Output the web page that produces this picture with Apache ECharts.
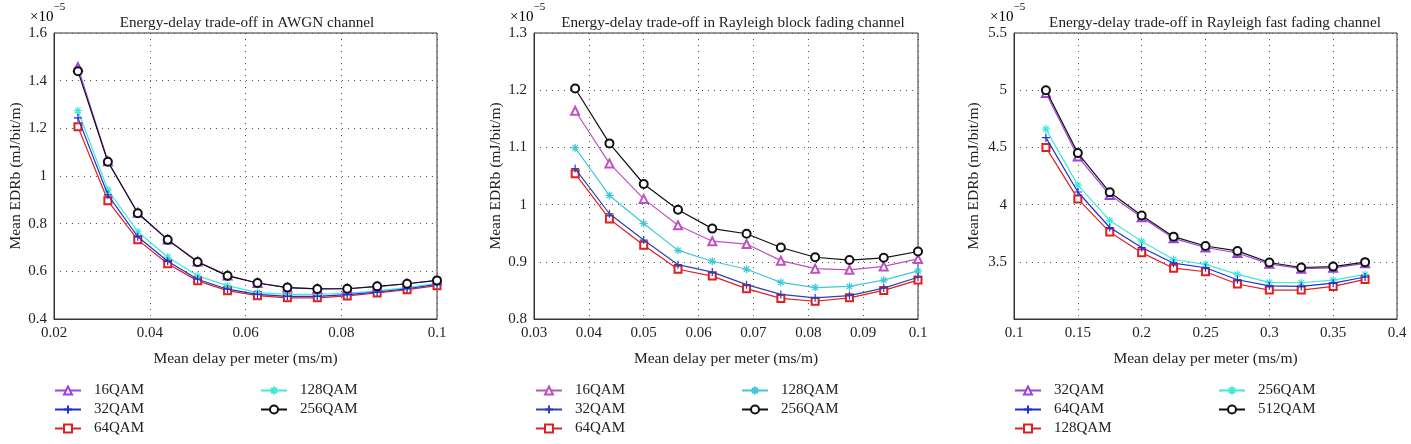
<!DOCTYPE html>
<html><head><meta charset="utf-8">
<script src="https://cdn.jsdelivr.net/npm/echarts@6/dist/echarts.min.js"></script>
<style>html,body{margin:0;padding:0;background:#fff}#c{width:1411px;height:444px}</style>
</head><body><div id="c"></div>
<script>
// ---------- data (values in units of 1e-5 mJ/bit/m) ----------
const titles = ['Energy-delay trade-off in AWGN channel','Energy-delay trade-off in Rayleigh block fading channel','Energy-delay trade-off in Rayleigh fast fading channel'];
const xLabel = 'Mean delay per meter (ms/m)';
const yLabel = 'Mean EDRb (mJ/bit/m)';

// AWGN
const awgnX = [0.025,0.03125,0.0375,0.04375,0.05,0.05625,0.0625,0.06875,0.075,0.08125,0.0875,0.09375,0.1];
const awgnNames = ['16QAM','32QAM','64QAM','128QAM','256QAM'];
const awgn16  = [1.457,1.062,0.846,0.734,0.641,0.583,0.551,0.532,0.527,0.527,0.536,0.548,0.562];
const awgn32  = [1.244,0.921,0.745,0.642,0.567,0.525,0.503,0.495,0.495,0.502,0.513,0.527,0.545];
const awgn64  = [1.207,0.896,0.732,0.632,0.560,0.519,0.498,0.489,0.489,0.497,0.509,0.523,0.540];
const awgn128 = [1.274,0.942,0.766,0.660,0.581,0.540,0.511,0.503,0.503,0.508,0.518,0.532,0.550];
const awgn256 = [1.440,1.060,0.844,0.732,0.639,0.581,0.551,0.532,0.526,0.527,0.537,0.548,0.562];

// Rayleigh block fading
const blockX = [0.0375,0.04375,0.05,0.05625,0.0625,0.06875,0.075,0.08125,0.0875,0.09375,0.1];
const blockNames = ['16QAM','32QAM','64QAM','128QAM','256QAM'];
const block16  = [1.164,1.072,1.010,0.964,0.936,0.931,0.902,0.888,0.886,0.892,0.905];
const block32  = [1.063,0.984,0.938,0.895,0.882,0.860,0.843,0.837,0.841,0.854,0.873];
const block64  = [1.054,0.975,0.929,0.887,0.875,0.853,0.836,0.831,0.837,0.850,0.868];
const block128 = [1.099,1.016,0.967,0.920,0.901,0.887,0.864,0.855,0.857,0.868,0.884];
const block256 = [1.203,1.107,1.036,0.991,0.958,0.949,0.925,0.908,0.903,0.907,0.918];

// Rayleigh fast fading
const fastX = [0.125,0.15,0.175,0.2,0.225,0.25,0.275,0.3,0.325,0.35,0.375];
const fastNames = ['32QAM','64QAM','128QAM','256QAM','512QAM'];
const fast32  = [4.975,4.42,4.085,3.89,3.705,3.625,3.577,3.482,3.44,3.447,3.487];
const fast64  = [4.585,4.11,3.80,3.625,3.488,3.448,3.343,3.29,3.285,3.313,3.367];
const fast128 = [4.50,4.05,3.76,3.58,3.444,3.413,3.306,3.253,3.253,3.285,3.346];
const fast256 = [4.66,4.17,3.862,3.68,3.52,3.478,3.39,3.32,3.317,3.34,3.39];
const fast512 = [5.0,4.45,4.107,3.905,3.72,3.638,3.595,3.494,3.45,3.458,3.497];

// axis ticks
const axes = [
  {xmin:0.02,xmax:0.1,xint:0.02,ymin:0.4,ymax:1.6,yint:0.2},
  {xmin:0.03,xmax:0.1,xint:0.01,ymin:0.8,ymax:1.3,yint:0.1},
  {xmin:0.1,xmax:0.4,xint:0.05,ymin:3,ymax:5.5,yint:0.5}
];

// ---------- styling ----------
const FONT = 'Liberation Serif';
const plusPath = 'path://M5,0 L5,10 M0,5 L10,5';
const starPath = 'path://M5,0 L5,10 M0,5 L10,5 M1.5,1.5 L8.5,8.5 M8.5,1.5 L1.5,8.5';
const grids = [
  {left:54, right:1411-437, top:33, bottom:444-319},
  {left:534, right:1411-918, top:33, bottom:444-319},
  {left:1014, right:1411-1397, top:33, bottom:444-319}
];
const styleSets = [
  [{c:'#a040f0',s:'emptyTriangle',z:8},{c:'#2030d0',s:plusPath,z:8},{c:'#e02020',s:'emptyRect',z:7},{c:'#40e8d8',s:starPath,z:7},{c:'#111',s:'emptyCircle',z:9}],
  [{c:'#c050c0',s:'emptyTriangle',z:9},{c:'#3040b0',s:plusPath,z:8},{c:'#e02020',s:'emptyRect',z:7},{c:'#40c8d8',s:starPath,z:7},{c:'#111',s:'emptyCircle',z:9}],
  [{c:'#a040e0',s:'emptyTriangle',z:8},{c:'#2030d0',s:plusPath,z:8},{c:'#e02020',s:'emptyRect',z:7},{c:'#40e8d8',s:starPath,z:7},{c:'#111',s:'emptyCircle',z:9}]
];
const chartData = [
  {x:awgnX, names:awgnNames, ys:[awgn16,awgn32,awgn64,awgn128,awgn256]},
  {x:blockX, names:blockNames, ys:[block16,block32,block64,block128,block256]},
  {x:fastX, names:fastNames, ys:[fast32,fast64,fast128,fast256,fast512]}
];

const xAxis = [], yAxis = [], series = [], legend = [], title = [], graphic = [];
const legendPos = [
  [{l:54,t:382},{l:260,t:382}],
  [{l:535,t:382},{l:741,t:382}],
  [{l:1014,t:382},{l:1218,t:382}]
];
const titleCx = [242, 728, 1210];
const expX = [30, 510, 990];
const yNameGap = [27, 30, 32];

chartData.forEach((cd, gi) => {
  const a = axes[gi];
  xAxis.push({
    gridIndex: gi, type:'value', min:a.xmin, max:a.xmax, interval:a.xint,
    name: xLabel, nameLocation:'middle', nameGap: 32,
    nameTextStyle:{fontFamily:FONT, fontSize:15.5, color:'#222'},
    axisLine:{lineStyle:{color:'#333', width:1}},
    axisTick:{show:false},
    axisLabel:{fontFamily:FONT, fontSize:15, color:'#222', margin:7},
    splitLine:{show:true, lineStyle:{color:'#555', width:1, type:[1,5]}}
  });
  yAxis.push({
    gridIndex: gi, type:'value', min:a.ymin, max:a.ymax, interval:a.yint,
    name: yLabel, nameLocation:'middle', nameGap: yNameGap[gi],
    nameTextStyle:{fontFamily:FONT, fontSize:15.5, color:'#222'},
    axisLine:{lineStyle:{color:'#333', width:1}},
    axisTick:{show:false},
    axisLabel:{fontFamily:FONT, fontSize:15, color:'#222', margin:7,
      formatter: v => (gi===2 && v===3) ? '' : String(+v.toFixed(4))},
    splitLine:{show:true, lineStyle:{color:'#555', width:1, type:[1,5]}}
  });
  cd.ys.forEach((ys, si) => {
    const st = styleSets[gi][si];
    const isPath = st.s.startsWith('path');
    series.push({
      type:'line', name: cd.names[si] + '#' + gi, xAxisIndex:gi, yAxisIndex:gi,
      data: cd.x.map((x,i)=>[x, ys[i]]),
      symbol: st.s, symbolSize: st.s==='emptyRect' ? 7 : 8,
      showAllSymbol:true, z: st.z,
      lineStyle:{color:st.c, width:1.2},
      itemStyle: isPath ? {color:st.c, borderColor:st.c, borderWidth:1.2} : {color:st.c, borderWidth:1.2},
      emphasis:{disabled:true}, animation:false
    });
  });
  const lp = legendPos[gi];
  [[0,1,2],[3,4]].forEach((idxs, ci) => {
    legend.push({
      orient:'vertical', left: lp[ci].l, top: lp[ci].t, padding:0,
      itemWidth:26, itemHeight:10, itemGap:2,
      data: idxs.map(i => cd.names[i] + '#' + gi),
      formatter: n => n.split('#')[0],
      textStyle:{fontFamily:FONT, fontSize:15, color:'#222', padding:[0,0,0,8], lineHeight:17},
      selectedMode:false
    });
  });
  title.push({
    text: titles[gi], left: titleCx[gi], top: 11, textAlign:'center',
    textStyle:{fontFamily:FONT, fontSize:15.2, fontWeight:'normal', color:'#222'}
  });
  graphic.push({
    type:'text', left: expX[gi], top: 2,
    style:{
      text:'{a|×10}{b|−5}',
      rich:{
        a:{fontFamily:FONT, fontSize:15, color:'#222', padding:[8,0,0,0]},
        b:{fontFamily:FONT, fontSize:11, color:'#222', verticalAlign:'top'}
      }
    }
  });
});

const chart = echarts.init(document.getElementById('c'), null, {renderer:'canvas'});
chart.setOption({
  animation:false,
  backgroundColor:'#fff',
  grid: grids.map(g => Object.assign({show:true, borderColor:'#333', borderWidth:1, containLabel:false}, g)),
  xAxis, yAxis, series, legend, title, graphic
});
</script>
</body></html>
